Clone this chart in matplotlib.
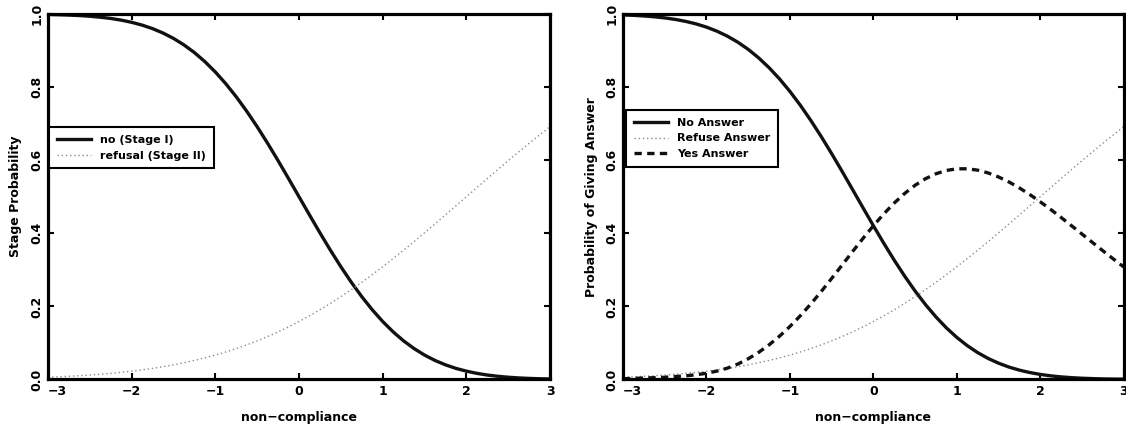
import matplotlib
matplotlib.use("Agg")
import matplotlib.pyplot as plt

# non-compliance grid (-3 .. 3, step 0.125)
x = [-3.0, -2.875, -2.75, -2.625, -2.5, -2.375, -2.25, -2.125, -2.0, -1.875, -1.75, -1.625,
     -1.5, -1.375, -1.25, -1.125, -1.0, -0.875, -0.75, -0.625, -0.5, -0.375, -0.25, -0.125,
     0.0, 0.125, 0.25, 0.375, 0.5, 0.625, 0.75, 0.875, 1.0, 1.125, 1.25, 1.375,
     1.5, 1.625, 1.75, 1.875, 2.0, 2.125, 2.25, 2.375, 2.5, 2.625, 2.75, 2.875, 3.0]

# left panel: stage probabilities
no_stage1 = [0.9987, 0.9980, 0.9970, 0.9957, 0.9938, 0.9912, 0.9878, 0.9832, 0.9772, 0.9696,
             0.9599, 0.9479, 0.9332, 0.9154, 0.8944, 0.8697, 0.8413, 0.8092, 0.7734, 0.7340,
             0.6915, 0.6462, 0.5987, 0.5497, 0.5000, 0.4503, 0.4013, 0.3538, 0.3085, 0.2660,
             0.2266, 0.1908, 0.1587, 0.1303, 0.1056, 0.0846, 0.0668, 0.0521, 0.0401, 0.0304,
             0.0228, 0.0168, 0.0122, 0.0088, 0.0062, 0.0043, 0.0030, 0.0020, 0.0013]
refusal_stage2 = [0.0062, 0.0074, 0.0088, 0.0104, 0.0122, 0.0144, 0.0168, 0.0196, 0.0228, 0.0263,
                  0.0304, 0.0350, 0.0401, 0.0458, 0.0521, 0.0591, 0.0668, 0.0753, 0.0846, 0.0947,
                  0.1056, 0.1175, 0.1303, 0.1440, 0.1587, 0.1742, 0.1908, 0.2083, 0.2266, 0.2459,
                  0.2660, 0.2869, 0.3085, 0.3309, 0.3538, 0.3773, 0.4013, 0.4256, 0.4503, 0.4751,
                  0.5000, 0.5249, 0.5497, 0.5744, 0.5987, 0.6227, 0.6462, 0.6691, 0.6915]

# right panel: answer probabilities
no_answer = [0.9974, 0.9963, 0.9946, 0.9923, 0.9893, 0.9852, 0.9798, 0.9729, 0.9641, 0.9530,
             0.9394, 0.9229, 0.9032, 0.8800, 0.8531, 0.8225, 0.7881, 0.7502, 0.7088, 0.6646,
             0.6179, 0.5695, 0.5199, 0.4701, 0.4207, 0.3726, 0.3264, 0.2827, 0.2420, 0.2047,
             0.1711, 0.1412, 0.1151, 0.0926, 0.0735, 0.0576, 0.0446, 0.0340, 0.0256, 0.0190,
             0.0139, 0.0100, 0.0071, 0.0050, 0.0035, 0.0024, 0.0016, 0.0011, 0.0007]
refuse_answer = refusal_stage2
yes_answer = [0.002, 0.003, 0.004, 0.005, 0.006, 0.008, 0.010, 0.013, 0.017, 0.023,
              0.031, 0.0421, 0.0567, 0.0742, 0.0948, 0.1184, 0.1451, 0.1745, 0.2066, 0.2407,
              0.2765, 0.3130, 0.3498, 0.3859, 0.4206, 0.4532, 0.4828, 0.5090, 0.5314, 0.5494,
              0.5629, 0.5719, 0.5764, 0.5765, 0.5727, 0.5651, 0.5541, 0.5404, 0.5241, 0.5059,
              0.4861, 0.4651, 0.4432, 0.4206, 0.3978, 0.3749, 0.3522, 0.3298, 0.3078]

xticks = [-3, -2, -1, 0, 1, 2, 3]
yticks = [0.0, 0.2, 0.4, 0.6, 0.8, 1.0]

plt.rcParams['font.family'] = ['DejaVu Sans']
plt.rcParams['font.weight'] = 'bold'

fig = plt.figure(figsize=(11.26, 4.29), dpi=100)
ax1 = fig.add_axes([0.0426, 0.1154, 0.4459, 0.852])
ax2 = fig.add_axes([0.5533, 0.1154, 0.4447, 0.852])


def style_axes(ax, ylabel):
    ax.set_xlim(-3, 3)
    ax.set_ylim(0, 1)
    ax.set_xticks(xticks)
    ax.set_yticks(yticks)
    ax.set_xticklabels([str(t) if t >= 0 else '\u2212' + str(-t) for t in xticks],
                       fontsize=9, fontweight='bold')
    ax.set_yticklabels(['%.1f' % t for t in yticks], fontsize=9, fontweight='bold',
                       rotation=90, va='center')
    ax.get_xticklabels()[0].set_ha('left')
    ax.tick_params(direction='in', length=4, width=1.5, top=True, right=True, pad=4)
    ax.tick_params(axis='y', pad=3)
    for s in ax.spines.values():
        s.set_linewidth(2.3)
    ax.set_xlabel('non\u2212compliance', fontsize=9, fontweight='bold', labelpad=9)
    ax.set_ylabel(ylabel, fontsize=9, fontweight='bold', labelpad=6)


dot_style = dict(color='0.55', lw=1.0, linestyle=(0, (1, 2)))
solid_style = dict(color='#111111', lw=2.4, solid_joinstyle='round')

ax1.plot(x, no_stage1, label='no (Stage I)', **solid_style)
ax1.plot(x, refusal_stage2, label='refusal (Stage II)', **dot_style)
style_axes(ax1, 'Stage Probability')
leg1 = ax1.legend(loc='upper left', bbox_to_anchor=(0.002, 0.69), fontsize=8,
                  handlelength=3.1, handletextpad=0.8, labelspacing=0.5,
                  borderpad=0.7, fancybox=False, framealpha=1, borderaxespad=0)
leg1.get_frame().set_edgecolor('black')
leg1.get_frame().set_linewidth(1.5)

ax2.plot(x, no_answer, label='No Answer', **solid_style)
ax2.plot(x, refuse_answer, label='Refuse Answer', **dot_style)
ax2.plot(x, yes_answer, color='#111111', lw=2.4, linestyle=(0, (2.2, 1.6)), label='Yes Answer')
style_axes(ax2, 'Probability of Giving Answer')
leg2 = ax2.legend(loc='upper left', bbox_to_anchor=(0.006, 0.737), fontsize=8,
                  handlelength=3.1, handletextpad=0.8, labelspacing=0.5,
                  borderpad=0.7, fancybox=False, framealpha=1, borderaxespad=0)
leg2.get_frame().set_edgecolor('black')
leg2.get_frame().set_linewidth(1.5)

fig.savefig('out.png', dpi=100)
